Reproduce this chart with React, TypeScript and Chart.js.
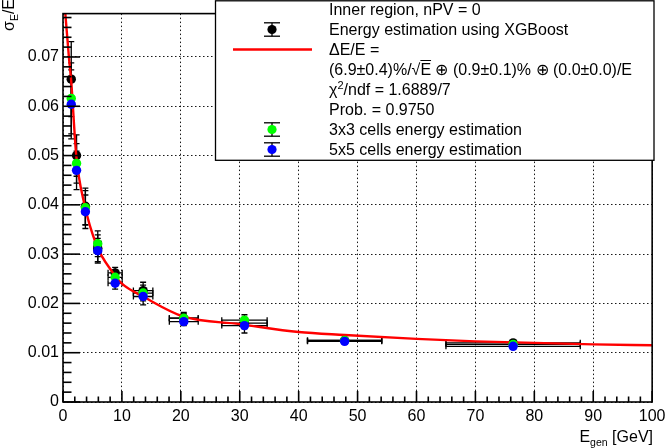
import { useEffect, useRef } from "react";
import { Chart, registerables } from "chart.js";

Chart.register(...registerables);

const FONT = "'Liberation Sans', Arial, Helvetica, sans-serif";

// generated energy bins [GeV] and their half widths
const energy = [1.4, 2.3, 3.8, 5.9, 8.85, 13.6, 20.5, 30.8, 47.8, 76.4];
const energyErr = [0.25, 0.35, 0.5, 0.6, 1.2, 1.65, 2.45, 3.85, 6.3, 11.4];

// sigma_E / E for the three estimators
const xgboost = [0.0655, 0.05, 0.0397, 0.0312, 0.0262, 0.0226, 0.017, 0.016, 0.0125, 0.012];
const xgboostErr = [0.0076, 0.0042, 0.0037, 0.0027, 0.0011, 0.0017, 0.0009, 0.0011, 0.0003, 0.0003];
const cells3x3 = [0.0616, 0.0484, 0.0394, 0.0321, 0.0253, 0.0221, 0.017, 0.0166, 0.0125, 0.0117];
const cells3x3Err = [0.0072, 0.004, 0.0035, 0.0026, 0.0011, 0.0016, 0.0012, 0.0011, 0.0003, 0.0003];
const cells5x5 = [0.0604, 0.047, 0.0386, 0.0307, 0.0241, 0.0214, 0.0163, 0.0155, 0.0123, 0.0113];
const cells5x5Err = [0.007, 0.0039, 0.0034, 0.0025, 0.0012, 0.0017, 0.0008, 0.0015, 0.0003, 0.0003];

// fitted resolution curve
const fitE = [0.3, 1.0, 1.4, 2.25, 3.66, 5.7, 8.3, 10, 13.6, 20.5, 30, 40, 47.8, 60, 70, 80, 90, 100];
const fitSigma = [0.0802, 0.07, 0.065, 0.05, 0.04, 0.0318, 0.0265, 0.024, 0.0214, 0.0173, 0.0158, 0.0142, 0.0136, 0.0128, 0.0123, 0.012, 0.0117, 0.0115];

const xTicks = [0, 10, 20, 30, 40, 50, 60, 70, 80, 90, 100];
const yTicks = [0, 0.01, 0.02, 0.03, 0.04, 0.05, 0.06, 0.07];

const series = [
  { values: xgboost, errors: xgboostErr, color: "#000000", order: 4 },
  { values: cells3x3, errors: cells3x3Err, color: "#00ff00", order: 2 },
  { values: cells5x5, errors: cells5x5Err, color: "#0000ff", order: 1 },
];

const toPoints = (xs: number[], ys: number[]) => xs.map((x, i) => ({ x, y: ys[i] }));

function line(ctx: CanvasRenderingContext2D, x0: number, y0: number, x1: number, y1: number) {
  ctx.beginPath();
  ctx.moveTo(x0, y0);
  ctx.lineTo(x1, y1);
  ctx.stroke();
}

const errorBars = {
  id: "errorBars",
  beforeDatasetsDraw(chart: any) {
    const { ctx, chartArea, scales } = chart;
    const { x, y } = scales;
    ctx.save();
    ctx.beginPath();
    ctx.rect(chartArea.left, chartArea.top, chartArea.width, chartArea.height);
    ctx.clip();
    ctx.strokeStyle = "#000";
    ctx.lineWidth = 1.3;
    for (const s of series) {
      energy.forEach((e, i) => {
        const px = x.getPixelForValue(e);
        const py = y.getPixelForValue(s.values[i]);
        const xl = x.getPixelForValue(e - energyErr[i]);
        const xr = x.getPixelForValue(e + energyErr[i]);
        const yt = y.getPixelForValue(s.values[i] + s.errors[i]);
        const yb = y.getPixelForValue(s.values[i] - s.errors[i]);
        line(ctx, xl, py, xr, py);
        line(ctx, xl, py - 3, xl, py + 3);
        line(ctx, xr, py - 3, xr, py + 3);
        line(ctx, px, yt, px, yb);
        line(ctx, px - 3, yt, px + 3, yt);
        line(ctx, px - 3, yb, px + 3, yb);
      });
    }
    ctx.restore();
  },
};

const frame = {
  id: "frame",
  afterDraw(chart: any) {
    const { ctx, chartArea, scales } = chart;
    const { x, y } = scales;
    const { left, right, top, bottom } = chartArea;
    ctx.save();
    ctx.strokeStyle = "#000";
    ctx.lineWidth = 1.6;
    // minor + major ticks pointing inwards
    for (let k = 0; k <= 50; k++) {
      const px = x.getPixelForValue(k * 2);
      line(ctx, px, bottom, px, bottom - (k % 5 === 0 ? 11 : 5.5));
    }
    for (let k = 0; k * 0.002 <= y.max; k++) {
      const py = y.getPixelForValue(k * 0.002);
      line(ctx, left, py, left + (k % 5 === 0 ? 17 : 8.5), py);
    }
    ctx.strokeRect(left, top, right - left, bottom - top);

    // legend box
    ctx.fillStyle = "#fff";
    ctx.fillRect(215, 0, 439, 160);
    ctx.lineWidth = 1.3;
    ctx.strokeRect(215.5, 0.8, 438.5, 159.5);

    const symbol = (cy: number, color: string) => {
      ctx.strokeStyle = "#000";
      ctx.lineWidth = 1.3;
      line(ctx, 272, cy - 6.7, 272, cy + 6.7);
      line(ctx, 264, cy - 6.7, 280, cy - 6.7);
      line(ctx, 264, cy + 6.7, 280, cy + 6.7);
      ctx.fillStyle = color;
      ctx.beginPath();
      ctx.arc(272, cy, 4.6, 0, Math.PI * 2);
      ctx.fill();
    };
    symbol(29.5, series[0].color);
    symbol(129.5, series[1].color);
    symbol(149.5, series[2].color);
    ctx.strokeStyle = "#ff0000";
    ctx.lineWidth = 2.3;
    line(ctx, 233, 49.5, 312, 49.5);
    ctx.restore();
  },
};

export default function App() {
  const canvasRef = useRef<HTMLCanvasElement | null>(null);

  useEffect(() => {
    if (canvasRef.current == null) return;
    const chart = new Chart(canvasRef.current, {
      type: "scatter",
      data: {
        datasets: [
          ...series.map((s) => ({
            data: toPoints(energy, s.values),
            pointRadius: 4.7,
            pointBorderWidth: 0,
            pointBackgroundColor: s.color,
            backgroundColor: s.color,
            borderColor: s.color,
            order: s.order,
          })),
          {
            type: "line" as const,
            data: toPoints(fitE, fitSigma),
            borderColor: "#ff0000",
            borderWidth: 2.4,
            pointRadius: 0,
            fill: false,
            cubicInterpolationMode: "monotone" as const,
            order: 3,
          },
        ],
      },
      options: {
        responsive: false,
        animation: false,
        layout: { padding: { top: 1, right: 17, left: 0, bottom: 0 } },
        plugins: { legend: { display: false }, tooltip: { enabled: false } },
        scales: {
          x: {
            type: "linear",
            min: 0,
            max: 100,
            afterFit: (scale: any) => {
              scale.height = 46;
            },
            afterBuildTicks: (scale: any) => {
              scale.ticks = xTicks.map((value) => ({ value }));
            },
            ticks: {
              color: "#000",
              padding: 4.5,
              maxRotation: 0,
              font: { family: FONT, size: 16 },
            },
            grid: { drawTicks: false, color: "rgba(0,0,0,0.9)", lineWidth: 1 },
            border: { display: false, dash: [1.5, 2.5] },
          },
          y: {
            type: "linear",
            min: 0,
            max: 0.0788,
            afterFit: (scale: any) => {
              scale.width = 63;
            },
            afterBuildTicks: (scale: any) => {
              scale.ticks = yTicks.map((value) => ({ value }));
            },
            ticks: {
              color: "#000",
              padding: 4,
              font: { family: FONT, size: 16 },
              callback: (v: any) => (Number(v) === 0 ? "0" : Number(v).toFixed(2)),
            },
            grid: { drawTicks: false, color: "rgba(0,0,0,0.9)", lineWidth: 1 },
            border: { display: false, dash: [1.5, 2.5] },
          },
        },
      },
      plugins: [errorBars, frame],
    } as any);
    return () => {
      chart.destroy();
    };
  }, []);

  const sub = { fontSize: 10.5, position: "relative" as const, top: 4 };
  const rows = [
    <>Inner region, nPV = 0</>,
    <>Energy estimation using XGBoost</>,
    <>ΔE/E =</>,
    <>
      (6.9±0.4)%/√<span style={{ textDecoration: "overline" }}>E</span> ⊕ (0.9±0.1)% ⊕ (0.0±0.0)/E
    </>,
    <>
      χ<span style={{ fontSize: 11, position: "relative", top: -6 }}>2</span>/ndf = 1.6889/7
    </>,
    <>Prob. = 0.9750</>,
    <>3x3 cells energy estimation</>,
    <>5x5 cells energy estimation</>,
  ];

  return (
    <div
      style={{
        position: "absolute",
        left: 0,
        top: 0,
        width: 670,
        height: 448,
        overflow: "hidden",
        background: "#fff",
        fontFamily: FONT,
        color: "#000",
      }}
    >
      <canvas ref={canvasRef} width={670} height={448} style={{ display: "block" }} />
      <div style={{ position: "absolute", left: 329, top: -0.5, fontSize: 16, lineHeight: "20px", whiteSpace: "nowrap" }}>
        {rows.map((r, i) => (
          <div key={i} style={{ height: 20 }}>
            {r}
          </div>
        ))}
      </div>
      <div
        style={{
          position: "absolute",
          left: -1,
          top: 30.5,
          fontSize: 16,
          lineHeight: "20px",
          whiteSpace: "nowrap",
          transform: "rotate(-90deg)",
          transformOrigin: "0 0",
        }}
      >
        σ<span style={sub}>E</span>/E
      </div>
      <div
        style={{
          position: "absolute",
          right: 17,
          top: 427,
          fontSize: 16,
          lineHeight: "20px",
          whiteSpace: "nowrap",
        }}
      >
        E<span style={sub}>gen</span> [GeV]
      </div>
    </div>
  );
}
